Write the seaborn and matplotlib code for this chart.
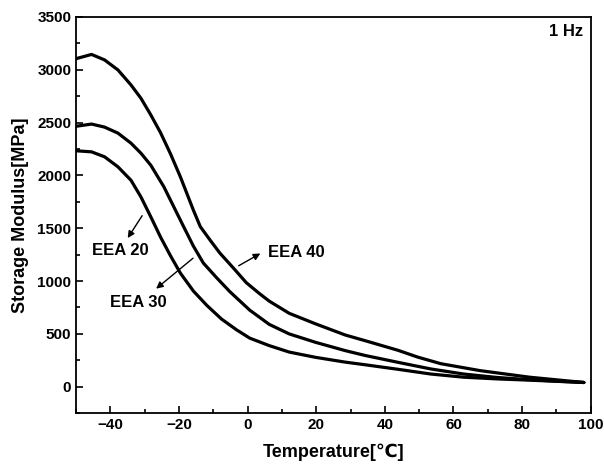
import numpy as np
import pandas as pd
import matplotlib
matplotlib.use('Agg')
import matplotlib.pyplot as plt
import seaborn as sns
from matplotlib.ticker import MultipleLocator

# Storage modulus curves (temperature in C, modulus in MPa)
temp_40 = [-50, -45.5, -41.7, -37.8, -34, -31.1, -28.2, -25.4, -22.5, -19.6, -17.7, -15.8, -13.8, -11,
           -8.1, -4.2, -0.4, 3.5, 6.3, 12.1, 19.8, 28.4, 34.2, 43.8, 49.6, 56.3, 67.8, 82.2, 98]
mod_40 = [3105, 3145, 3093, 2998, 2856, 2730, 2571, 2405, 2205, 1986, 1828, 1670, 1515, 1390,
          1265, 1125, 985, 880, 810, 695, 595, 490, 436, 345, 280, 218, 152, 90, 40]

temp_30 = [-50, -45.5, -41.7, -37.8, -34, -31.1, -28.2, -24.4, -21.5, -18.6, -15.8, -12.9, -9, -5.2,
           0.6, 6.3, 12.1, 19.8, 28.4, 34.2, 43.8, 53.4, 63, 72.6, 82.2, 98]
mod_30 = [2465, 2486, 2457, 2400, 2305, 2210, 2095, 1891, 1701, 1511, 1330, 1170, 1030, 900,
          725, 590, 500, 420, 342, 296, 231, 168, 120, 88, 66, 40]

temp_20 = [-50, -45.5, -41.7, -37.8, -34, -31.1, -28.2, -25.4, -22.5, -19.6, -15.8, -11.9, -7.6, -3.3,
           0.6, 6.3, 12.1, 19.8, 28.4, 34.2, 43.8, 53.4, 63, 72.6, 82.2, 98]
mod_20 = [2233, 2223, 2176, 2081, 1954, 1796, 1606, 1417, 1240, 1075, 905, 770, 640, 540,
          460, 389, 328, 278, 233, 208, 165, 120, 90, 74, 62, 40]

df = pd.concat([
    pd.DataFrame({'T': temp_40, 'E': mod_40, 'sample': 'EEA 40'}),
    pd.DataFrame({'T': temp_30, 'E': mod_30, 'sample': 'EEA 30'}),
    pd.DataFrame({'T': temp_20, 'E': mod_20, 'sample': 'EEA 20'}),
])

sns.set_style('white')
plt.rcParams['font.family'] = ['Liberation Sans', 'DejaVu Sans']
plt.rcParams['font.weight'] = 'bold'
plt.rcParams['text.color'] = 'black'
plt.rcParams['axes.labelcolor'] = 'black'
plt.rcParams['xtick.color'] = 'black'
plt.rcParams['ytick.color'] = 'black'

fig = plt.figure(figsize=(6.04, 4.70), dpi=100)
ax = fig.add_axes([0.126, 0.121, 0.852, 0.843])

sns.lineplot(data=df, x='T', y='E', units='sample', estimator=None, sort=False,
             color='black', lw=2.3, ax=ax, solid_joinstyle='round', solid_capstyle='round')

ax.set_xlim(-50, 100)
ax.set_ylim(-250, 3500)
ax.xaxis.set_major_locator(MultipleLocator(20))
ax.xaxis.set_minor_locator(MultipleLocator(10))
ax.yaxis.set_major_locator(MultipleLocator(500))
ax.yaxis.set_minor_locator(MultipleLocator(250))
ax.tick_params(which='both', direction='in', top=False, right=False,
               bottom=True, left=True, labelsize=11, width=1.2)
ax.tick_params(which='major', length=5)
ax.tick_params(which='minor', length=3)
for lab in ax.get_xticklabels() + ax.get_yticklabels():
    lab.set_fontweight('bold')
for sp in ax.spines.values():
    sp.set_linewidth(1.3)
    sp.set_color('black')

ax.set_xlabel('Temperature[℃]', fontsize=13, fontweight='bold', labelpad=8)
ax.set_ylabel('Storage Modulus[MPa]', fontsize=13, fontweight='bold', labelpad=6)

ax.text(0.986, 0.962, '1 Hz', transform=ax.transAxes, ha='right', va='center',
        fontsize=12, fontweight='bold')

arrow = dict(arrowstyle='-|>', color='black', lw=1.0, mutation_scale=10)
ax.annotate('', xy=(-35.4, 1385), xytext=(-30.3, 1641), arrowprops=arrow)
ax.annotate('', xy=(-27.3, 911), xytext=(-15.3, 1233), arrowprops=arrow)
ax.annotate('', xy=(4.4, 1274), xytext=(-3.3, 1132), arrowprops=arrow)
ax.text(-37.2, 1290, 'EEA 20', ha='center', va='center', fontsize=12, fontweight='bold')
ax.text(-32, 797, 'EEA 30', ha='center', va='center', fontsize=12, fontweight='bold')
ax.text(14.1, 1271, 'EEA 40', ha='center', va='center', fontsize=12, fontweight='bold')

fig.savefig('out.png', dpi=100)
